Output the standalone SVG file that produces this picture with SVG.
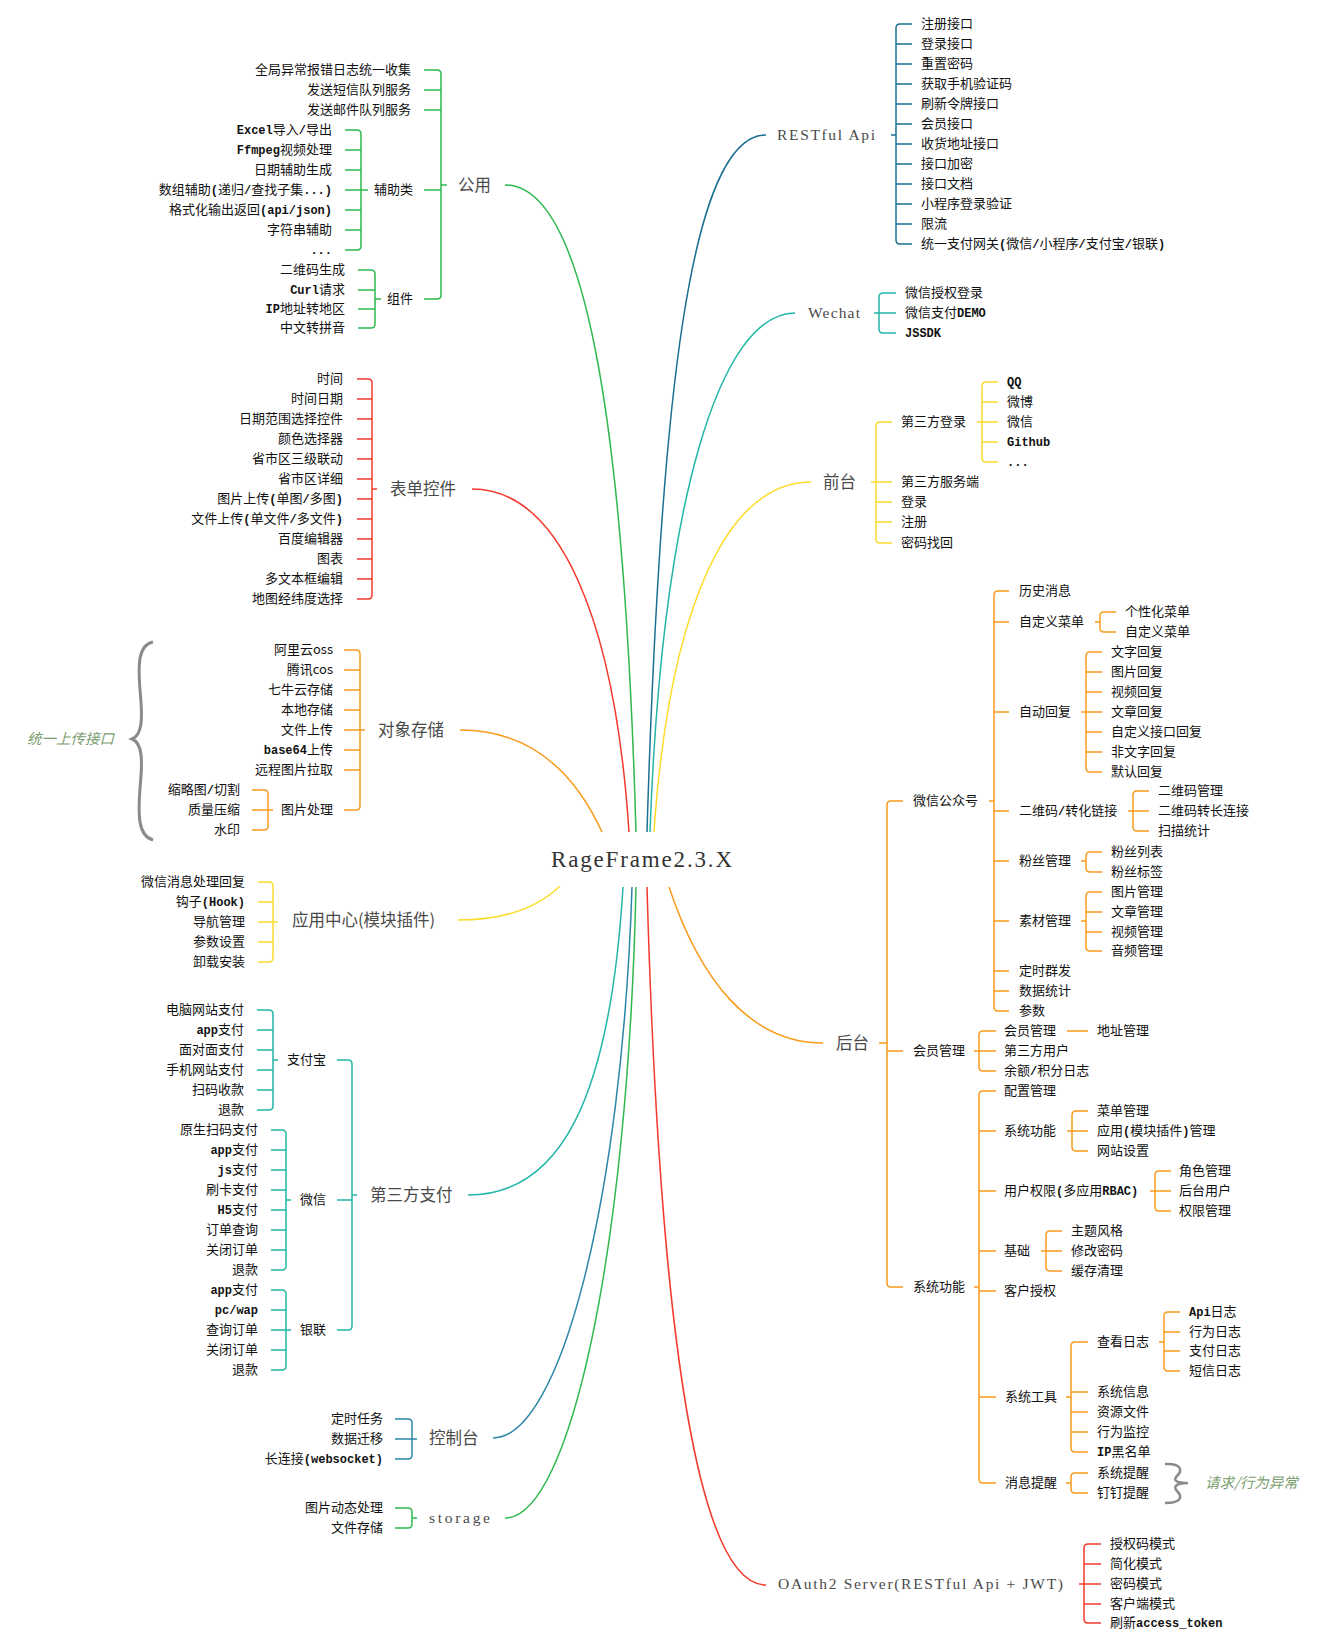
<svg xmlns="http://www.w3.org/2000/svg" width="1327" height="1649" viewBox="0 0 1327 1649">
<style>
.t{font-family:"Noto Sans CJK SC",sans-serif;font-size:13px;fill:#111}
.e{text-anchor:end}
.m{font-family:"Liberation Mono",monospace;font-weight:bold;font-size:12px}
.h{font-family:"Noto Sans CJK SC",sans-serif;font-size:16.5px;fill:#4a4a4a}
.hm{font-family:"Liberation Serif",serif;font-size:15.5px;fill:#4a4a4a}
.c{font-family:"Liberation Serif",serif;font-size:23px;fill:#333}
.note{font-family:"Noto Sans CJK SC",sans-serif;font-size:14.5px;font-style:italic;fill:#7b9e70}
#connectors path{fill:none;stroke-width:1.5}
.G{stroke:#2eb84f}.R{stroke:#f4392c}.O{stroke:#fa9a1b}.Y{stroke:#fcdc2a}.T{stroke:#22b6a6}.B{stroke:#2b86a8}.D{stroke:#1b6f93}
.brace{stroke:#8a8a8a;stroke-width:3;fill:none}
</style>
<rect width="1327" height="1649" fill="#fff"/>
<g id="connectors">
<path class="G" d="M636 832C625 450 590 185 505 185"/>
<path class="R" d="M629 832C615 620 560 489 472 489"/>
<path class="O" d="M602 832Q555 730 460 730"/>
<path class="D" d="M647 832C660 400 690 135 766 135"/>
<path class="T" d="M650 832C662 500 720 313 795 313"/>
<path class="Y" d="M654 832C670 600 730 482 811 482"/>
<path class="Y" d="M560 886Q525 920 458 920"/>
<path class="T" d="M623 887C610 1100 560 1195 468 1195"/>
<path class="B" d="M632 887C622 1200 560 1438 493 1438"/>
<path class="G" d="M636 887C628 1250 570 1518 505 1518"/>
<path class="R" d="M647 887C660 1350 700 1585 766 1585"/>
<path class="O" d="M669 887C700 980 750 1043 823 1043"/>
<path class="G" d="M424 70H437Q441 70 441 74V295Q441 299 437 299H424M424 90H441M424 110H441M424 190H441M441 185H447"/>
<path class="G" d="M345 130H357Q361 130 361 134V246Q361 250 357 250H345M345 150H361M345 170H361M345 190H361M345 210H361M345 230H361M361 190H368"/>
<path class="G" d="M358 270H371Q375 270 375 274V324Q375 328 371 328H358M358 290H375M358 309H375M375 299H381"/>
<path class="R" d="M357 379H368Q372 379 372 383V595Q372 599 368 599H357M357 399H372M357 419H372M357 439H372M357 459H372M357 479H372M357 499H372M357 519H372M357 539H372M357 559H372M357 579H372M372 489H377"/>
<path class="O" d="M344 650H356Q360 650 360 654V806Q360 810 356 810H344M344 670H360M344 690H360M344 710H360M344 730H360M344 750H360M344 770H360M360 730H365"/>
<path class="O" d="M252 790H264Q268 790 268 794V826Q268 830 264 830H252M252 810H268M268 810H273"/>
<path class="Y" d="M258 882H269Q273 882 273 886V958Q273 962 269 962H258M258 902H273M258 922H273M258 942H273M273 922H278"/>
<path class="T" d="M257 1010H269Q273 1010 273 1014V1106Q273 1110 269 1110H257M257 1030H273M257 1050H273M257 1070H273M257 1090H273M273 1060H278"/>
<path class="T" d="M271 1130H282Q286 1130 286 1134V1266Q286 1270 282 1270H271M271 1150H286M271 1170H286M271 1190H286M271 1210H286M271 1230H286M271 1250H286M286 1200H291"/>
<path class="T" d="M271 1290H282Q286 1290 286 1294V1366Q286 1370 282 1370H271M271 1310H286M271 1330H286M271 1350H286M286 1330H291"/>
<path class="T" d="M337 1060H348Q352 1060 352 1064V1326Q352 1330 348 1330H337M337 1200H352M352 1195H357"/>
<path class="B" d="M395 1419H408Q412 1419 412 1423V1455Q412 1459 408 1459H395M395 1439H412M412 1439H417"/>
<path class="G" d="M395 1508H408Q412 1508 412 1512V1524Q412 1528 408 1528H395M412 1518H417"/>
<path class="D" d="M912 24H900Q896 24 896 28V240Q896 244 900 244H912M896 44H912M896 64H912M896 84H912M896 104H912M896 124H912M896 144H912M896 164H912M896 184H912M896 204H912M896 224H912M896 135H891"/>
<path class="T" d="M896 293H883Q879 293 879 297V329Q879 333 883 333H896M879 313H896M879 313H874"/>
<path class="Y" d="M892 422H880Q876 422 876 426V539Q876 543 880 543H892M876 482H892M876 502H892M876 522H892M876 482H871"/>
<path class="Y" d="M998 382H986Q982 382 982 386V458Q982 462 986 462H998M982 402H998M982 422H998M982 442H998M982 422H977"/>
<path class="O" d="M903 801H891Q887 801 887 805V1283Q887 1287 891 1287H903M887 1051H903M887 1043H879"/>
<path class="O" d="M1009 591H998Q994 591 994 595V1007Q994 1011 998 1011H1009M994 622H1009M994 712H1009M994 811H1009M994 861H1009M994 921H1009M994 971H1009M994 991H1009M994 801H989"/>
<path class="O" d="M1116 612H1104Q1100 612 1100 616V628Q1100 632 1104 632H1116M1100 622H1095"/>
<path class="O" d="M1102 652H1090Q1086 652 1086 656V768Q1086 772 1090 772H1102M1086 672H1102M1086 692H1102M1086 712H1102M1086 732H1102M1086 752H1102M1086 712H1081"/>
<path class="O" d="M1149 791H1137Q1133 791 1133 795V827Q1133 831 1137 831H1149M1133 811H1149M1133 811H1128"/>
<path class="O" d="M1102 852H1090Q1086 852 1086 856V868Q1086 872 1090 872H1102M1086 861H1081"/>
<path class="O" d="M1102 892H1090Q1086 892 1086 896V947Q1086 951 1090 951H1102M1086 912H1102M1086 932H1102M1086 921H1081"/>
<path class="O" d="M996 1031H983Q979 1031 979 1035V1067Q979 1071 983 1071H996M979 1051H996M979 1051H974M1067 1031H1088"/>
<path class="O" d="M996 1091H983Q979 1091 979 1095V1479Q979 1483 983 1483H996M979 1131H996M979 1191H996M979 1251H996M979 1291H996M979 1397H996M979 1287H974"/>
<path class="O" d="M1088 1111H1076Q1072 1111 1072 1115V1147Q1072 1151 1076 1151H1088M1072 1131H1088M1072 1131H1067"/>
<path class="O" d="M1171 1171H1159Q1155 1171 1155 1175V1207Q1155 1211 1159 1211H1171M1155 1191H1171M1155 1191H1150"/>
<path class="O" d="M1062 1231H1050Q1046 1231 1046 1235V1267Q1046 1271 1050 1271H1062M1046 1251H1062M1046 1251H1041"/>
<path class="O" d="M1088 1342H1075Q1071 1342 1071 1346V1448Q1071 1452 1075 1452H1088M1071 1392H1088M1071 1412H1088M1071 1432H1088M1071 1397H1066"/>
<path class="O" d="M1180 1312H1168Q1164 1312 1164 1316V1367Q1164 1371 1168 1371H1180M1164 1332H1180M1164 1351H1180M1164 1342H1159"/>
<path class="O" d="M1088 1473H1075Q1071 1473 1071 1477V1489Q1071 1493 1075 1493H1088M1071 1483H1066"/>
<path class="R" d="M1101 1544H1088Q1084 1544 1084 1548V1619Q1084 1623 1088 1623H1101M1084 1564H1101M1084 1584H1101M1084 1604H1101M1084 1584H1079"/>
</g>
<path class="brace" d="M153 642C138 645 138 665 140 690C143 720 142 735 132 739C142 743 143 758 140 788C138 815 138 836 153 840"/>
<path class="brace" style="stroke-width:2.5" d="M1165 1464C1181 1463 1183 1470 1177 1476C1172 1481 1178 1483 1188 1483C1178 1483 1172 1486 1177 1491C1183 1497 1181 1503 1165 1503"/>
<g id="center"><text class="c" x="551" y="867" textLength="181">RageFrame2.3.X</text></g>
<g id="note-upload"><text class="note" x="27" y="744">统一上传接口</text></g>
<g id="note-msg"><text class="note" x="1205" y="1488">请求/行为异常</text></g>
<g id="gongyong"><text class="h" x="458" y="191">公用</text></g>
<g id="gy-1"><text class="t e" x="411" y="74">全局异常报错日志统一收集</text></g>
<g id="gy-2"><text class="t e" x="411" y="94">发送短信队列服务</text></g>
<g id="gy-3"><text class="t e" x="411" y="114">发送邮件队列服务</text></g>
<g id="fuzhulei"><text class="t e" x="413" y="194">辅助类</text></g>
<g id="zujian"><text class="t e" x="413" y="303">组件</text></g>
<g id="fz-1"><text class="t e" x="332" y="134"><tspan class="m">Excel</tspan>导入<tspan class="m">/</tspan>导出</text></g>
<g id="fz-2"><text class="t e" x="332" y="154"><tspan class="m">Ffmpeg</tspan>视频处理</text></g>
<g id="fz-3"><text class="t e" x="332" y="174">日期辅助生成</text></g>
<g id="fz-4"><text class="t e" x="332" y="194">数组辅助<tspan class="m">(</tspan>递归<tspan class="m">/</tspan>查找子集<tspan class="m">...)</tspan></text></g>
<g id="fz-5"><text class="t e" x="332" y="214">格式化输出返回<tspan class="m">(api/json)</tspan></text></g>
<g id="fz-6"><text class="t e" x="332" y="234">字符串辅助</text></g>
<g id="fz-7"><text class="t e" x="332" y="254"><tspan class="m">...</tspan></text></g>
<g id="zj-1"><text class="t e" x="345" y="274">二维码生成</text></g>
<g id="zj-2"><text class="t e" x="345" y="294"><tspan class="m">Curl</tspan>请求</text></g>
<g id="zj-3"><text class="t e" x="345" y="313"><tspan class="m">IP</tspan>地址转地区</text></g>
<g id="zj-4"><text class="t e" x="345" y="332">中文转拼音</text></g>
<g id="biaodan"><text class="h" x="390" y="495">表单控件</text></g>
<g id="bd-1"><text class="t e" x="343" y="383">时间</text></g>
<g id="bd-2"><text class="t e" x="343" y="403">时间日期</text></g>
<g id="bd-3"><text class="t e" x="343" y="423">日期范围选择控件</text></g>
<g id="bd-4"><text class="t e" x="343" y="443">颜色选择器</text></g>
<g id="bd-5"><text class="t e" x="343" y="463">省市区三级联动</text></g>
<g id="bd-6"><text class="t e" x="343" y="483">省市区详细</text></g>
<g id="bd-7"><text class="t e" x="343" y="503">图片上传<tspan class="m">(</tspan>单图<tspan class="m">/</tspan>多图<tspan class="m">)</tspan></text></g>
<g id="bd-8"><text class="t e" x="343" y="523">文件上传<tspan class="m">(</tspan>单文件<tspan class="m">/</tspan>多文件<tspan class="m">)</tspan></text></g>
<g id="bd-9"><text class="t e" x="343" y="543">百度编辑器</text></g>
<g id="bd-10"><text class="t e" x="343" y="563">图表</text></g>
<g id="bd-11"><text class="t e" x="343" y="583">多文本框编辑</text></g>
<g id="bd-12"><text class="t e" x="343" y="603">地图经纬度选择</text></g>
<g id="duixiang"><text class="h" x="378" y="736">对象存储</text></g>
<g id="dx-1"><text class="t e" x="333" y="654">阿里云oss</text></g>
<g id="dx-2"><text class="t e" x="333" y="674">腾讯cos</text></g>
<g id="dx-3"><text class="t e" x="333" y="694">七牛云存储</text></g>
<g id="dx-4"><text class="t e" x="333" y="714">本地存储</text></g>
<g id="dx-5"><text class="t e" x="333" y="734">文件上传</text></g>
<g id="dx-6"><text class="t e" x="333" y="754"><tspan class="m">base64</tspan>上传</text></g>
<g id="dx-7"><text class="t e" x="333" y="774">远程图片拉取</text></g>
<g id="tupian"><text class="t e" x="333" y="814">图片处理</text></g>
<g id="tp-1"><text class="t e" x="240" y="794">缩略图<tspan class="m">/</tspan>切割</text></g>
<g id="tp-2"><text class="t e" x="240" y="814">质量压缩</text></g>
<g id="tp-3"><text class="t e" x="240" y="834">水印</text></g>
<g id="yingyong"><text class="h" x="292" y="926">应用中心(模块插件)</text></g>
<g id="yy-1"><text class="t e" x="245" y="886">微信消息处理回复</text></g>
<g id="yy-2"><text class="t e" x="245" y="906">钩子<tspan class="m">(Hook)</tspan></text></g>
<g id="yy-3"><text class="t e" x="245" y="926">导航管理</text></g>
<g id="yy-4"><text class="t e" x="245" y="946">参数设置</text></g>
<g id="yy-5"><text class="t e" x="245" y="966">卸载安装</text></g>
<g id="zhifu"><text class="h" x="370" y="1201">第三方支付</text></g>
<g id="alipay"><text class="t" x="287" y="1064">支付宝</text></g>
<g id="ali-1"><text class="t e" x="244" y="1014">电脑网站支付</text></g>
<g id="ali-2"><text class="t e" x="244" y="1034"><tspan class="m">app</tspan>支付</text></g>
<g id="ali-3"><text class="t e" x="244" y="1054">面对面支付</text></g>
<g id="ali-4"><text class="t e" x="244" y="1074">手机网站支付</text></g>
<g id="ali-5"><text class="t e" x="244" y="1094">扫码收款</text></g>
<g id="ali-6"><text class="t e" x="244" y="1114">退款</text></g>
<g id="wxpay"><text class="t" x="300" y="1204">微信</text></g>
<g id="wx-1"><text class="t e" x="258" y="1134">原生扫码支付</text></g>
<g id="wx-2"><text class="t e" x="258" y="1154"><tspan class="m">app</tspan>支付</text></g>
<g id="wx-3"><text class="t e" x="258" y="1174"><tspan class="m">js</tspan>支付</text></g>
<g id="wx-4"><text class="t e" x="258" y="1194">刷卡支付</text></g>
<g id="wx-5"><text class="t e" x="258" y="1214"><tspan class="m">H5</tspan>支付</text></g>
<g id="wx-6"><text class="t e" x="258" y="1234">订单查询</text></g>
<g id="wx-7"><text class="t e" x="258" y="1254">关闭订单</text></g>
<g id="wx-8"><text class="t e" x="258" y="1274">退款</text></g>
<g id="unionpay"><text class="t" x="300" y="1334">银联</text></g>
<g id="up-1"><text class="t e" x="258" y="1294"><tspan class="m">app</tspan>支付</text></g>
<g id="up-2"><text class="t e" x="258" y="1314"><tspan class="m">pc/wap</tspan></text></g>
<g id="up-3"><text class="t e" x="258" y="1334">查询订单</text></g>
<g id="up-4"><text class="t e" x="258" y="1354">关闭订单</text></g>
<g id="up-5"><text class="t e" x="258" y="1374">退款</text></g>
<g id="console"><text class="h" x="429" y="1444">控制台</text></g>
<g id="cs-1"><text class="t e" x="383" y="1423">定时任务</text></g>
<g id="cs-2"><text class="t e" x="383" y="1443">数据迁移</text></g>
<g id="cs-3"><text class="t e" x="383" y="1463">长连接<tspan class="m">(websocket)</tspan></text></g>
<g id="storage"><text class="hm" x="429" y="1523" textLength="61">storage</text></g>
<g id="st-1"><text class="t e" x="383" y="1512">图片动态处理</text></g>
<g id="st-2"><text class="t e" x="383" y="1532">文件存储</text></g>
<g id="restful"><text class="hm" x="777" y="140" textLength="98">RESTful Api</text></g>
<g id="api-1"><text class="t" x="921" y="28">注册接口</text></g>
<g id="api-2"><text class="t" x="921" y="48">登录接口</text></g>
<g id="api-3"><text class="t" x="921" y="68">重置密码</text></g>
<g id="api-4"><text class="t" x="921" y="88">获取手机验证码</text></g>
<g id="api-5"><text class="t" x="921" y="108">刷新令牌接口</text></g>
<g id="api-6"><text class="t" x="921" y="128">会员接口</text></g>
<g id="api-7"><text class="t" x="921" y="148">收货地址接口</text></g>
<g id="api-8"><text class="t" x="921" y="168">接口加密</text></g>
<g id="api-9"><text class="t" x="921" y="188">接口文档</text></g>
<g id="api-10"><text class="t" x="921" y="208">小程序登录验证</text></g>
<g id="api-11"><text class="t" x="921" y="228">限流</text></g>
<g id="api-12"><text class="t" x="921" y="248">统一支付网关<tspan class="m">(</tspan>微信<tspan class="m">/</tspan>小程序<tspan class="m">/</tspan>支付宝<tspan class="m">/</tspan>银联<tspan class="m">)</tspan></text></g>
<g id="wechat"><text class="hm" x="808" y="318" textLength="52">Wechat</text></g>
<g id="wc-1"><text class="t" x="905" y="297">微信授权登录</text></g>
<g id="wc-2"><text class="t" x="905" y="317">微信支付<tspan class="m">DEMO</tspan></text></g>
<g id="wc-3"><text class="t" x="905" y="337"><tspan class="m">JSSDK</tspan></text></g>
<g id="qiantai"><text class="h" x="823" y="488">前台</text></g>
<g id="qt-1"><text class="t" x="901" y="426">第三方登录</text></g>
<g id="qt-2"><text class="t" x="901" y="486">第三方服务端</text></g>
<g id="qt-3"><text class="t" x="901" y="506">登录</text></g>
<g id="qt-4"><text class="t" x="901" y="526">注册</text></g>
<g id="qt-5"><text class="t" x="901" y="547">密码找回</text></g>
<g id="dl-1"><text class="t" x="1007" y="386"><tspan class="m">QQ</tspan></text></g>
<g id="dl-2"><text class="t" x="1007" y="406">微博</text></g>
<g id="dl-3"><text class="t" x="1007" y="426">微信</text></g>
<g id="dl-4"><text class="t" x="1007" y="446"><tspan class="m">Github</tspan></text></g>
<g id="dl-5"><text class="t" x="1007" y="466"><tspan class="m">...</tspan></text></g>
<g id="houtai"><text class="h" x="836" y="1049">后台</text></g>
<g id="mp"><text class="t" x="913" y="805">微信公众号</text></g>
<g id="mp-1"><text class="t" x="1019" y="595">历史消息</text></g>
<g id="mp-2"><text class="t" x="1019" y="626">自定义菜单</text></g>
<g id="mp-3"><text class="t" x="1019" y="716">自动回复</text></g>
<g id="mp-4"><text class="t" x="1019" y="815">二维码<tspan class="m">/</tspan>转化链接</text></g>
<g id="mp-5"><text class="t" x="1019" y="865">粉丝管理</text></g>
<g id="mp-6"><text class="t" x="1019" y="925">素材管理</text></g>
<g id="mp-7"><text class="t" x="1019" y="975">定时群发</text></g>
<g id="mp-8"><text class="t" x="1019" y="995">数据统计</text></g>
<g id="mp-9"><text class="t" x="1019" y="1015">参数</text></g>
<g id="menu-1"><text class="t" x="1125" y="616">个性化菜单</text></g>
<g id="menu-2"><text class="t" x="1125" y="636">自定义菜单</text></g>
<g id="re-1"><text class="t" x="1111" y="656">文字回复</text></g>
<g id="re-2"><text class="t" x="1111" y="676">图片回复</text></g>
<g id="re-3"><text class="t" x="1111" y="696">视频回复</text></g>
<g id="re-4"><text class="t" x="1111" y="716">文章回复</text></g>
<g id="re-5"><text class="t" x="1111" y="736">自定义接口回复</text></g>
<g id="re-6"><text class="t" x="1111" y="756">非文字回复</text></g>
<g id="re-7"><text class="t" x="1111" y="776">默认回复</text></g>
<g id="qr-1"><text class="t" x="1158" y="795">二维码管理</text></g>
<g id="qr-2"><text class="t" x="1158" y="815">二维码转长连接</text></g>
<g id="qr-3"><text class="t" x="1158" y="835">扫描统计</text></g>
<g id="fan-1"><text class="t" x="1111" y="856">粉丝列表</text></g>
<g id="fan-2"><text class="t" x="1111" y="876">粉丝标签</text></g>
<g id="sc-1"><text class="t" x="1111" y="896">图片管理</text></g>
<g id="sc-2"><text class="t" x="1111" y="916">文章管理</text></g>
<g id="sc-3"><text class="t" x="1111" y="936">视频管理</text></g>
<g id="sc-4"><text class="t" x="1111" y="955">音频管理</text></g>
<g id="member"><text class="t" x="913" y="1055">会员管理</text></g>
<g id="mb-1"><text class="t" x="1004" y="1035">会员管理</text></g>
<g id="mb-2"><text class="t" x="1004" y="1055">第三方用户</text></g>
<g id="mb-3"><text class="t" x="1004" y="1075">余额<tspan class="m">/</tspan>积分日志</text></g>
<g id="addr"><text class="t" x="1097" y="1035">地址管理</text></g>
<g id="sys"><text class="t" x="913" y="1291">系统功能</text></g>
<g id="sys-1"><text class="t" x="1004" y="1095">配置管理</text></g>
<g id="sys-2"><text class="t" x="1004" y="1135">系统功能</text></g>
<g id="sys-3"><text class="t" x="1004" y="1195">用户权限<tspan class="m">(</tspan>多应用<tspan class="m">RBAC)</tspan></text></g>
<g id="sys-4"><text class="t" x="1004" y="1255">基础</text></g>
<g id="sys-5"><text class="t" x="1004" y="1295">客户授权</text></g>
<g id="sys-6"><text class="t" x="1005" y="1401">系统工具</text></g>
<g id="sys-7"><text class="t" x="1005" y="1487">消息提醒</text></g>
<g id="fn-1"><text class="t" x="1097" y="1115">菜单管理</text></g>
<g id="fn-2"><text class="t" x="1097" y="1135">应用<tspan class="m">(</tspan>模块插件<tspan class="m">)</tspan>管理</text></g>
<g id="fn-3"><text class="t" x="1097" y="1155">网站设置</text></g>
<g id="rb-1"><text class="t" x="1179" y="1175">角色管理</text></g>
<g id="rb-2"><text class="t" x="1179" y="1195">后台用户</text></g>
<g id="rb-3"><text class="t" x="1179" y="1215">权限管理</text></g>
<g id="bs-1"><text class="t" x="1071" y="1235">主题风格</text></g>
<g id="bs-2"><text class="t" x="1071" y="1255">修改密码</text></g>
<g id="bs-3"><text class="t" x="1071" y="1275">缓存清理</text></g>
<g id="tl-1"><text class="t" x="1097" y="1346">查看日志</text></g>
<g id="tl-2"><text class="t" x="1097" y="1396">系统信息</text></g>
<g id="tl-3"><text class="t" x="1097" y="1416">资源文件</text></g>
<g id="tl-4"><text class="t" x="1097" y="1436">行为监控</text></g>
<g id="tl-5"><text class="t" x="1097" y="1456"><tspan class="m">IP</tspan>黑名单</text></g>
<g id="log-1"><text class="t" x="1189" y="1316"><tspan class="m">Api</tspan>日志</text></g>
<g id="log-2"><text class="t" x="1189" y="1336">行为日志</text></g>
<g id="log-3"><text class="t" x="1189" y="1355">支付日志</text></g>
<g id="log-4"><text class="t" x="1189" y="1375">短信日志</text></g>
<g id="msg-1"><text class="t" x="1097" y="1477">系统提醒</text></g>
<g id="msg-2"><text class="t" x="1097" y="1497">钉钉提醒</text></g>
<g id="oauth"><text class="hm" x="778" y="1589" textLength="285">OAuth2 Server(RESTful Api + JWT)</text></g>
<g id="oa-1"><text class="t" x="1110" y="1548">授权码模式</text></g>
<g id="oa-2"><text class="t" x="1110" y="1568">简化模式</text></g>
<g id="oa-3"><text class="t" x="1110" y="1588">密码模式</text></g>
<g id="oa-4"><text class="t" x="1110" y="1608">客户端模式</text></g>
<g id="oa-5"><text class="t" x="1110" y="1627">刷新<tspan class="m">access_token</tspan></text></g>
</svg>
